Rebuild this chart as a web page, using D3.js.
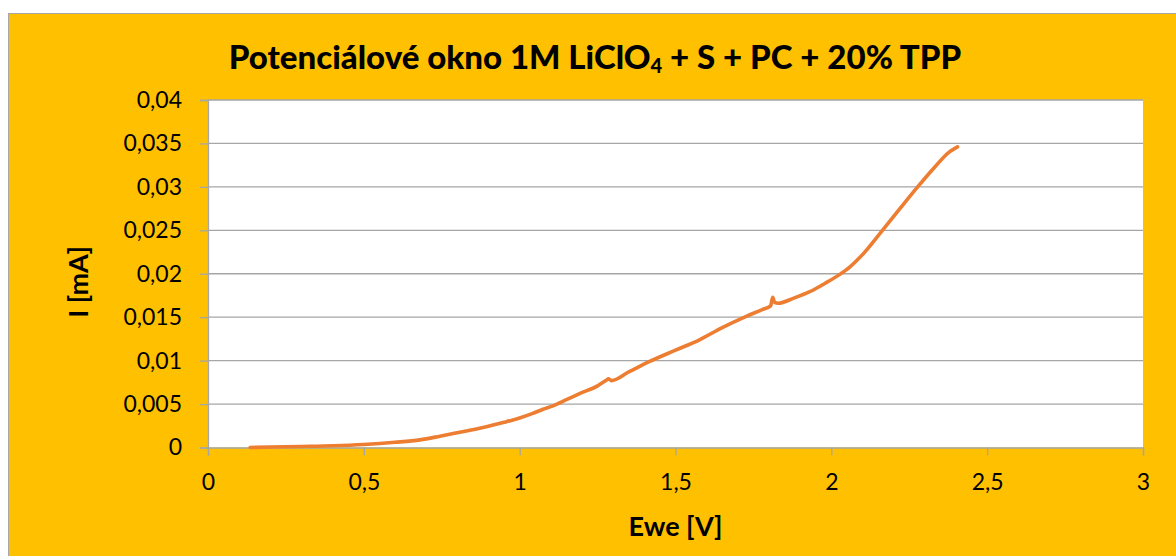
<!DOCTYPE html>
<html>
<head>
<meta charset="utf-8">
<script src="https://cdn.jsdelivr.net/npm/d3@7"></script>
<style>
  html, body { margin: 0; padding: 0; background: #ffffff; }
  svg { display: block; }
  text { font-family: Lato, "Open Sans", "Liberation Sans", sans-serif; fill: #000; }
</style>
</head>
<body>
<svg id="chart" width="1176" height="556"></svg>
<script>
// Potential sweep: Ewe [V] vs. current I [mA]
const ewe = [0.135, 0.2, 0.3, 0.4, 0.5, 0.6, 0.68, 0.744, 0.8, 0.893, 0.95, 1.0, 1.04, 1.075,
  1.107, 1.15, 1.192, 1.25, 1.278, 1.285, 1.294, 1.35, 1.417, 1.5, 1.577, 1.65, 1.727, 1.78,
  1.805, 1.812, 1.818, 1.829, 1.88, 1.929, 1.98, 2.026, 2.06, 2.1, 2.164, 2.22, 2.277, 2.33,
  2.378, 2.4, 2.405];
const current = [0.0, 0.00005, 0.00012, 0.0002, 0.00035, 0.0006, 0.00088, 0.0013, 0.0017, 0.0024,
  0.0029, 0.0034, 0.0039, 0.0044, 0.0048, 0.0055, 0.0062, 0.0071, 0.00775, 0.0079, 0.0077, 0.0087,
  0.0099, 0.0112, 0.0124, 0.0138, 0.0151, 0.0159, 0.0163, 0.0173, 0.0167, 0.0166, 0.0172, 0.0179,
  0.0189, 0.0199, 0.0208, 0.0222, 0.025, 0.0275, 0.03, 0.0322, 0.034, 0.0345, 0.0346];

const xTicks = [0, 0.5, 1, 1.5, 2, 2.5, 3];
const xTickLabels = ["0", "0,5", "1", "1,5", "2", "2,5", "3"];
const yTicks = [0, 0.005, 0.01, 0.015, 0.02, 0.025, 0.03, 0.035, 0.04];
const yTickLabels = ["0", "0,005", "0,01", "0,015", "0,02", "0,025", "0,03", "0,035", "0,04"];

const svg = d3.select("#chart");
const W = 1176, H = 556;
const plot = { left: 208, right: 1143, top: 100, bottom: 447.5 };

// chart frame
svg.append("rect")
  .attr("x", 8.5).attr("y", 13.5)
  .attr("width", W).attr("height", H)
  .attr("fill", "#FFC000")
  .attr("stroke", "#A6A6A6").attr("stroke-width", 1);

// plot area
svg.append("rect")
  .attr("x", plot.left).attr("y", plot.top)
  .attr("width", plot.right - plot.left).attr("height", plot.bottom - plot.top)
  .attr("fill", "#ffffff");

const x = d3.scaleLinear().domain([0, 3]).range([plot.left, plot.right]);
const y = d3.scaleLinear().domain([0, 0.04]).range([plot.bottom, plot.top]);

// horizontal gridlines
svg.append("g")
  .selectAll("line")
  .data(yTicks.filter(d => d > 0))
  .join("line")
  .attr("x1", plot.left).attr("x2", plot.right)
  .attr("y1", d => y(d)).attr("y2", d => y(d))
  .attr("stroke", "#A6A6A6").attr("stroke-width", 1.3);

// y axis
const yAxis = svg.append("g")
  .attr("transform", `translate(${plot.left},0)`)
  .call(d3.axisLeft(y).tickValues(yTicks)
    .tickFormat((d, i) => yTickLabels[i]).tickSize(8).tickPadding(18));
yAxis.select(".domain").attr("stroke", "#A6A6A6").attr("stroke-width", 1.3);
yAxis.selectAll(".tick line").attr("stroke", "#A6A6A6").attr("stroke-width", 1.3);
yAxis.selectAll(".tick text")
  .attr("font-family", "Lato, 'Open Sans', sans-serif")
  .attr("font-size", 23).attr("fill", "#000");

// x axis
const xAxis = svg.append("g")
  .attr("transform", `translate(0,${plot.bottom})`)
  .call(d3.axisBottom(x).tickValues(xTicks)
    .tickFormat((d, i) => xTickLabels[i]).tickSize(8).tickPadding(18));
xAxis.select(".domain").attr("stroke", "#A6A6A6").attr("stroke-width", 1.3);
xAxis.selectAll(".tick line").attr("stroke", "#A6A6A6").attr("stroke-width", 1.3);
xAxis.selectAll(".tick text")
  .attr("font-family", "Lato, 'Open Sans', sans-serif")
  .attr("font-size", 23).attr("fill", "#000");

// data line
const pts = ewe.map((v, i) => [v, current[i]]);
svg.append("path")
  .datum(pts)
  .attr("fill", "none")
  .attr("stroke", "#ED7D31")
  .attr("stroke-width", 3.6)
  .attr("stroke-linejoin", "round")
  .attr("stroke-linecap", "round")
  .attr("d", d3.line().x(d => x(d[0])).y(d => y(d[1])).curve(d3.curveMonotoneX));

// title
const title = svg.append("text")
  .attr("x", 595).attr("y", 69)
  .attr("text-anchor", "middle")
  .attr("font-weight", 900)
  .attr("font-size", 30);
title.append("tspan").text("Potenciálové okno 1M LiClO");
title.append("tspan").attr("font-size", 20).attr("dy", 4).text("4");
title.append("tspan").attr("dy", -4).text(" + S + PC + 20% TPP");
const tw = title.node().getComputedTextLength();
title.attr("font-size", 30 * 734 / tw);

// axis titles
svg.append("text")
  .attr("x", plot.left + (plot.right - plot.left) / 2).attr("y", 536)
  .attr("text-anchor", "middle")
  .attr("font-weight", "bold").attr("font-size", 27)
  .text("Ewe [V]");

svg.append("text")
  .attr("transform", `translate(88,${282}) rotate(-90)`)
  .attr("text-anchor", "middle")
  .attr("font-weight", "bold").attr("font-size", 27)
  .text("I [mA]");
</script>
</body>
</html>
